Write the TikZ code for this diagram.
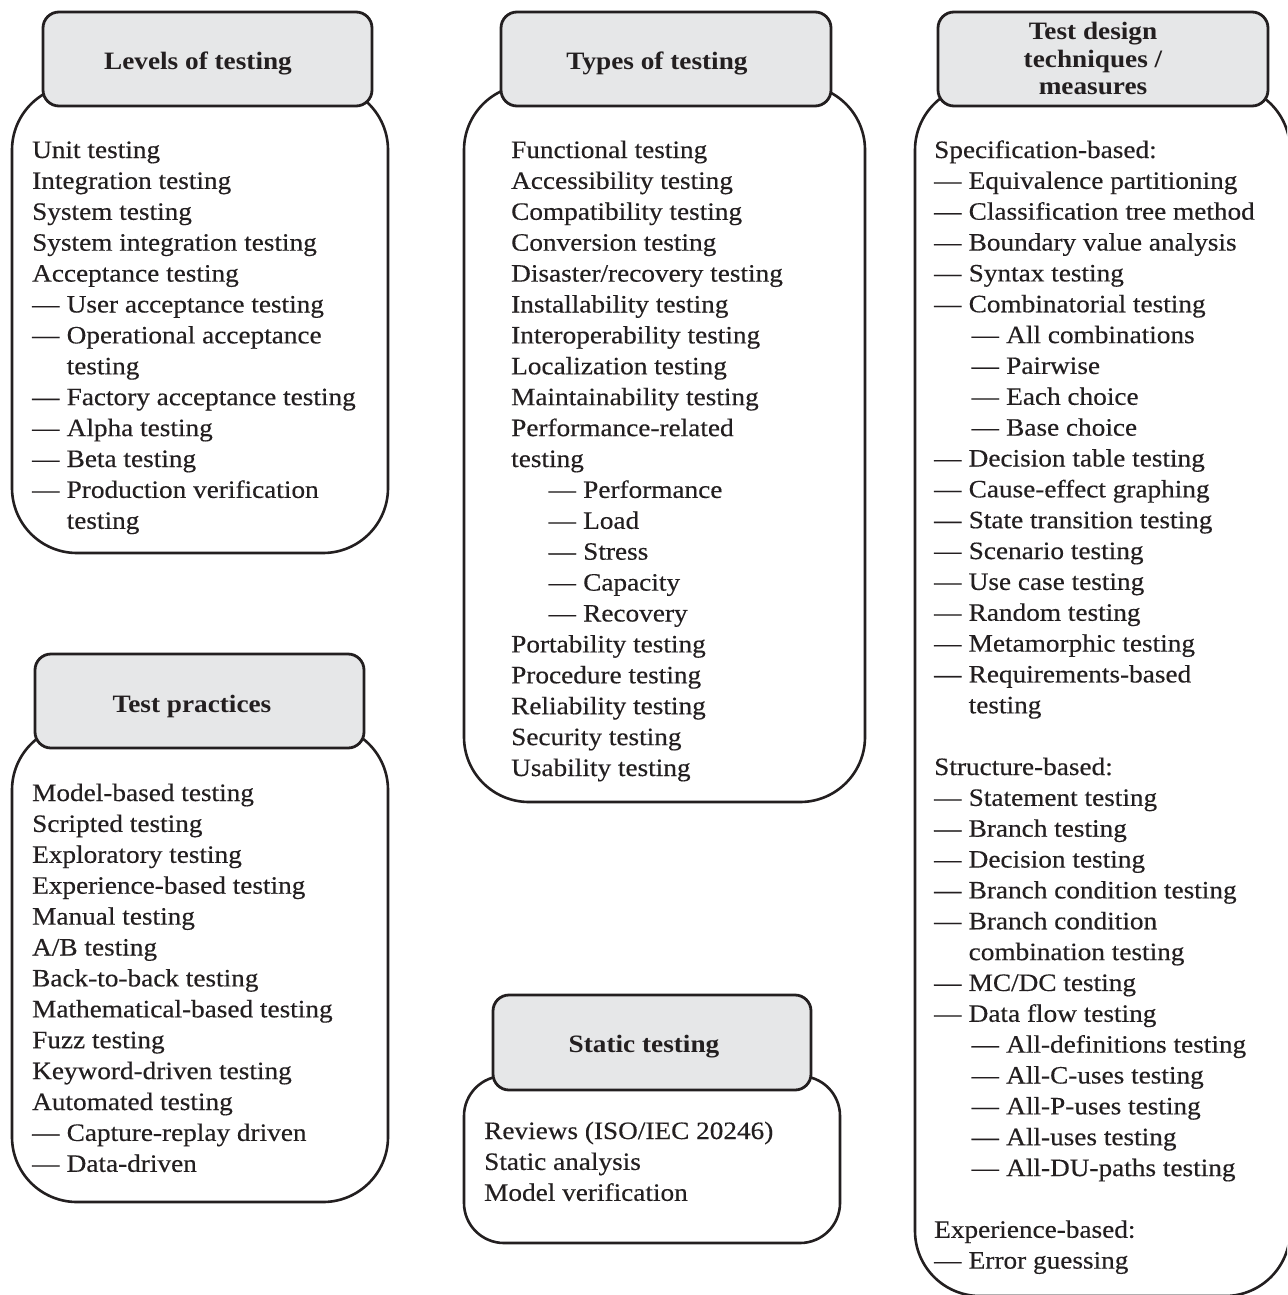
\documentclass[tikz,border=0pt]{standalone}
\usepackage{fontspec}
\setmainfont{Liberation Serif}[FakeStretch=1.09,UprightFeatures={FakeBold=0.35}]
\definecolor{ink}{HTML}{231F20}
\definecolor{headfill}{HTML}{E6E7E8}
% list markers: first-level dash, second-level dash, continuation line
\newcommand\Ia[1]{\makebox[34.5pt][l]{\textemdash}#1}
\newcommand\Ib[1]{\hspace*{37.5pt}\Ia{#1}}
\newcommand\Ic[1]{\hspace*{34.5pt}#1}
\begin{document}
\begin{tikzpicture}[x=1pt,y=-1pt,
  body/.style={draw=ink,line width=2.6pt,fill=white},
  head/.style={draw=ink,line width=2.8pt,fill=headfill,rounded corners=16pt},
  entry/.style={anchor=base west,inner sep=0pt,text=ink,font=\fontsize{25}{31}\selectfont},
  title/.style={anchor=base,inner sep=0pt,text=ink,font=\bfseries\fontsize{25}{31}\selectfont}]
\clip (0,0) rectangle (1287,1295);

% ---- Levels of testing
\draw[body,rounded corners=65pt] (12,85) rectangle (388,553);
\draw[head] (43,12) rectangle (372,106);
\node[title] (t1) at (198,70) {Levels of testing};
\foreach \t [count=\i from 0] in {Unit testing, Integration testing, System testing,
  System integration testing, Acceptance testing, \Ia{User acceptance testing},
  \Ia{Operational acceptance}, \Ic{testing}, \Ia{Factory acceptance testing},
  \Ia{Alpha testing}, \Ia{Beta testing}, \Ia{Production verification}, \Ic{testing}}
  \node[entry] (a\i) at (32,{158+\i*30.9}) {\t};

% ---- Types of testing
\draw[body,rounded corners=65pt] (464,85) rectangle (865,802);
\draw[head] (501,12) rectangle (831,106);
\node[title] (t2) at (657,70) {Types of testing};
\foreach \t [count=\i from 0] in {Functional testing, Accessibility testing,
  Compatibility testing, Conversion testing, Disaster/recovery testing,
  Installability testing, Interoperability testing, Localization testing,
  Maintainability testing, Performance-related, testing, \Ib{Performance},
  \Ib{Load}, \Ib{Stress}, \Ib{Capacity}, \Ib{Recovery}, Portability testing,
  Procedure testing, Reliability testing, Security testing, Usability testing}
  \node[entry] (b\i) at (511,{158+\i*30.9}) {\t};

% ---- Test design techniques / measures
\draw[body,rounded corners=65pt] (915,85) rectangle (1290,1296);
\draw[head] (938,12) rectangle (1268,106);
\node[title] (t3a) at (1093,40) {Test design};
\node[title] (t3b) at (1093,67.5) {techniques /};
\node[title] (t3c) at (1093,95) {measures};
\foreach \t [count=\i from 0] in {Specification-based:,
  \Ia{Equivalence partitioning}, \Ia{Classification tree method},
  \Ia{Boundary value analysis}, \Ia{Syntax testing}, \Ia{Combinatorial testing},
  \Ib{All combinations}, \Ib{Pairwise}, \Ib{Each choice}, \Ib{Base choice},
  \Ia{Decision table testing}, \Ia{Cause-effect graphing},
  \Ia{State transition testing}, \Ia{Scenario testing}, \Ia{Use case testing},
  \Ia{Random testing}, \Ia{Metamorphic testing}, \Ia{Requirements-based},
  \Ic{testing}, {}, Structure-based:, \Ia{Statement testing}, \Ia{Branch testing},
  \Ia{Decision testing}, \Ia{Branch condition testing}, \Ia{Branch condition},
  \Ic{combination testing}, \Ia{MC/DC testing}, \Ia{Data flow testing},
  \Ib{All-definitions testing}, \Ib{All-C-uses testing}, \Ib{All-P-uses testing},
  \Ib{All-uses testing}, \Ib{All-DU-paths testing}, {}, Experience-based:,
  \Ia{Error guessing}}
  \node[entry] (c\i) at (934,{158+\i*30.85}) {\t};

% ---- Test practices
\draw[body,rounded corners=65pt] (12,725) rectangle (388,1202);
\draw[head] (35,654) rectangle (364,748);
\node[title] (t4) at (192,712) {Test practices};
\foreach \t [count=\i from 0] in {Model-based testing, Scripted testing,
  Exploratory testing, Experience-based testing, Manual testing, A/B testing,
  Back-to-back testing, Mathematical-based testing, Fuzz testing,
  Keyword-driven testing, Automated testing, \Ia{Capture-replay driven},
  \Ia{Data-driven}}
  \node[entry] (d\i) at (32,{801+\i*30.9}) {\t};

% ---- Static testing
\draw[body,rounded corners=40pt] (464,1076) rectangle (840,1243);
\draw[head] (493,995) rectangle (811,1090);
\node[title] (t5) at (644,1052) {Static testing};
\foreach \t [count=\i from 0] in {Reviews (ISO/IEC 20246), Static analysis,
  Model verification}
  \node[entry] (e\i) at (484,{1139+\i*30.9}) {\t};
\end{tikzpicture}
\end{document}
